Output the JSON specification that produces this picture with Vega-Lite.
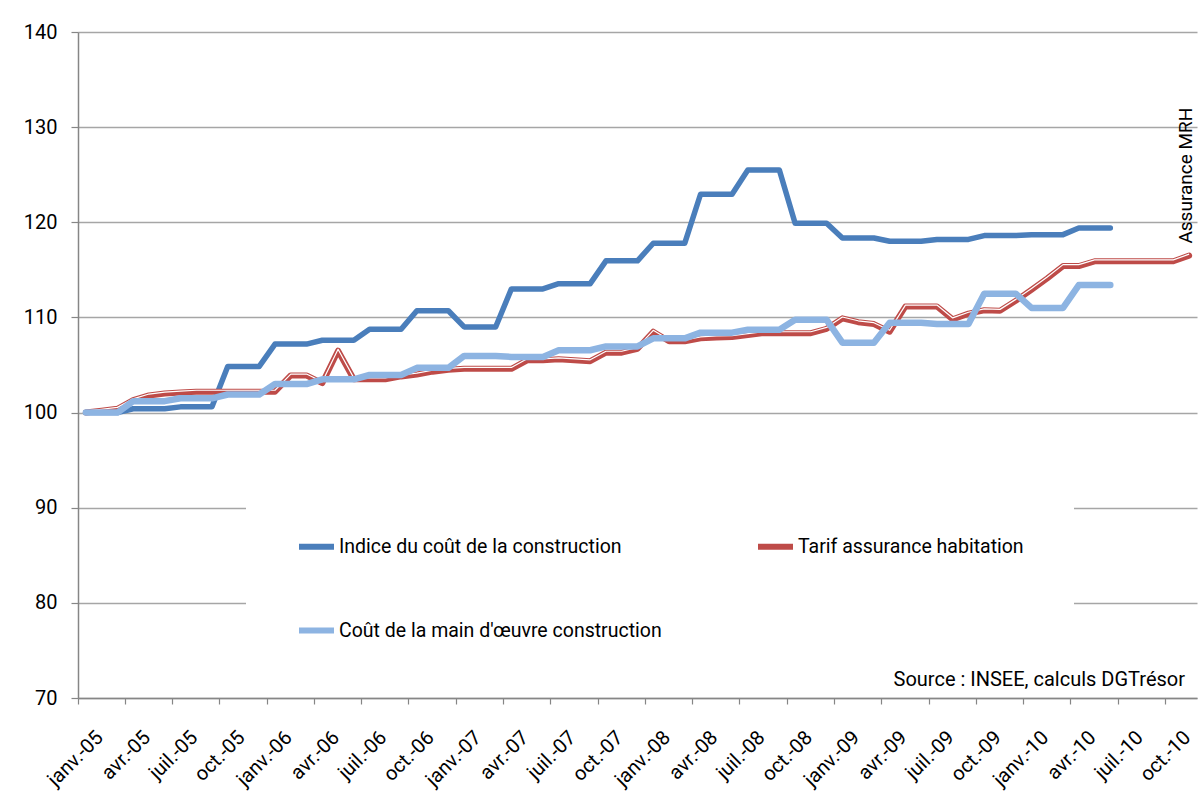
{
  "$schema": "https://vega.github.io/schema/vega-lite/v6.json",
  "width": 1119,
  "height": 666,
  "autosize": {"type": "none"},
  "padding": {"left": 78, "top": 32, "right": 6, "bottom": 94},
  "background": "white",
  "config": {"view": {"stroke": null}, "font": "Roboto"},
  "title": {
    "text": "Source : INSEE, calculs DGTrésor",
    "orient": "bottom", "anchor": "end", "frame": "group",
    "offset": -120, "dx": -12, "zindex": 1,
    "font": "Roboto", "fontSize": 20, "fontWeight": "normal", "color": "#000000"
  },
  "data": {"values": [
    {"mois": "janv.-05", "ICC": 100.0, "Tarif": 100.0, "MO": 100.0},
    {"mois": "févr.-05", "ICC": 100.0, "Tarif": 100.2, "MO": 100.0},
    {"mois": "mars-05", "ICC": 100.0, "Tarif": 100.4, "MO": 100.0},
    {"mois": "avr.-05", "ICC": 100.4, "Tarif": 101.3, "MO": 101.2},
    {"mois": "mai-05", "ICC": 100.4, "Tarif": 101.8, "MO": 101.2},
    {"mois": "juin-05", "ICC": 100.4, "Tarif": 102.0, "MO": 101.2},
    {"mois": "juil.-05", "ICC": 100.6, "Tarif": 102.1, "MO": 101.5},
    {"mois": "août-05", "ICC": 100.6, "Tarif": 102.2, "MO": 101.5},
    {"mois": "sept.-05", "ICC": 100.6, "Tarif": 102.2, "MO": 101.5},
    {"mois": "oct.-05", "ICC": 104.85, "Tarif": 102.2, "MO": 101.9},
    {"mois": "nov.-05", "ICC": 104.85, "Tarif": 102.2, "MO": 101.9},
    {"mois": "déc.-05", "ICC": 104.85, "Tarif": 102.2, "MO": 101.9},
    {"mois": "janv.-06", "ICC": 107.2, "Tarif": 102.2, "MO": 103.0},
    {"mois": "févr.-06", "ICC": 107.2, "Tarif": 103.9, "MO": 103.0},
    {"mois": "mars-06", "ICC": 107.2, "Tarif": 103.9, "MO": 103.0},
    {"mois": "avr.-06", "ICC": 107.6, "Tarif": 103.1, "MO": 103.5},
    {"mois": "mai-06", "ICC": 107.6, "Tarif": 106.5, "MO": 103.5},
    {"mois": "juin-06", "ICC": 107.6, "Tarif": 103.5, "MO": 103.5},
    {"mois": "juil.-06", "ICC": 108.75, "Tarif": 103.5, "MO": 103.95},
    {"mois": "août-06", "ICC": 108.75, "Tarif": 103.5, "MO": 103.95},
    {"mois": "sept.-06", "ICC": 108.75, "Tarif": 103.8, "MO": 103.95},
    {"mois": "oct.-06", "ICC": 110.7, "Tarif": 104.0, "MO": 104.7},
    {"mois": "nov.-06", "ICC": 110.7, "Tarif": 104.3, "MO": 104.7},
    {"mois": "déc.-06", "ICC": 110.7, "Tarif": 104.5, "MO": 104.7},
    {"mois": "janv.-07", "ICC": 109.0, "Tarif": 104.6, "MO": 105.95},
    {"mois": "févr.-07", "ICC": 109.0, "Tarif": 104.6, "MO": 105.95},
    {"mois": "mars-07", "ICC": 109.0, "Tarif": 104.6, "MO": 105.95},
    {"mois": "avr.-07", "ICC": 113.0, "Tarif": 104.6, "MO": 105.85},
    {"mois": "mai-07", "ICC": 113.0, "Tarif": 105.5, "MO": 105.85},
    {"mois": "juin-07", "ICC": 113.0, "Tarif": 105.5, "MO": 105.85},
    {"mois": "juil.-07", "ICC": 113.55, "Tarif": 105.6, "MO": 106.55},
    {"mois": "août-07", "ICC": 113.55, "Tarif": 105.5, "MO": 106.55},
    {"mois": "sept.-07", "ICC": 113.55, "Tarif": 105.4, "MO": 106.55},
    {"mois": "oct.-07", "ICC": 115.95, "Tarif": 106.3, "MO": 106.95},
    {"mois": "nov.-07", "ICC": 115.95, "Tarif": 106.3, "MO": 106.95},
    {"mois": "déc.-07", "ICC": 115.95, "Tarif": 106.7, "MO": 106.95},
    {"mois": "janv.-08", "ICC": 117.8, "Tarif": 108.5, "MO": 107.8},
    {"mois": "févr.-08", "ICC": 117.8, "Tarif": 107.5, "MO": 107.8},
    {"mois": "mars-08", "ICC": 117.8, "Tarif": 107.5, "MO": 107.8},
    {"mois": "avr.-08", "ICC": 122.95, "Tarif": 107.8, "MO": 108.4},
    {"mois": "mai-08", "ICC": 122.95, "Tarif": 107.9, "MO": 108.4},
    {"mois": "juin-08", "ICC": 122.95, "Tarif": 107.95, "MO": 108.4},
    {"mois": "juil.-08", "ICC": 125.5, "Tarif": 108.15, "MO": 108.7},
    {"mois": "août-08", "ICC": 125.5, "Tarif": 108.35, "MO": 108.7},
    {"mois": "sept.-08", "ICC": 125.5, "Tarif": 108.35, "MO": 108.7},
    {"mois": "oct.-08", "ICC": 119.9, "Tarif": 108.35, "MO": 109.75},
    {"mois": "nov.-08", "ICC": 119.9, "Tarif": 108.35, "MO": 109.75},
    {"mois": "déc.-08", "ICC": 119.9, "Tarif": 108.8, "MO": 109.75},
    {"mois": "janv.-09", "ICC": 118.35, "Tarif": 109.9, "MO": 107.35},
    {"mois": "févr.-09", "ICC": 118.35, "Tarif": 109.5, "MO": 107.35},
    {"mois": "mars-09", "ICC": 118.35, "Tarif": 109.3, "MO": 107.35},
    {"mois": "avr.-09", "ICC": 118.0, "Tarif": 108.5, "MO": 109.45},
    {"mois": "mai-09", "ICC": 118.0, "Tarif": 111.15, "MO": 109.45},
    {"mois": "juin-09", "ICC": 118.0, "Tarif": 111.15, "MO": 109.45},
    {"mois": "juil.-09", "ICC": 118.2, "Tarif": 111.15, "MO": 109.3},
    {"mois": "août-09", "ICC": 118.2, "Tarif": 109.8, "MO": 109.3},
    {"mois": "sept.-09", "ICC": 118.2, "Tarif": 110.4, "MO": 109.3},
    {"mois": "oct.-09", "ICC": 118.6, "Tarif": 110.75, "MO": 112.5},
    {"mois": "nov.-09", "ICC": 118.6, "Tarif": 110.7, "MO": 112.5},
    {"mois": "déc.-09", "ICC": 118.6, "Tarif": 111.75, "MO": 112.5},
    {"mois": "janv.-10", "ICC": 118.7, "Tarif": 112.9, "MO": 111.0},
    {"mois": "févr.-10", "ICC": 118.7, "Tarif": 114.1, "MO": 111.0},
    {"mois": "mars-10", "ICC": 118.7, "Tarif": 115.4, "MO": 111.0},
    {"mois": "avr.-10", "ICC": 119.4, "Tarif": 115.4, "MO": 113.4},
    {"mois": "mai-10", "ICC": 119.4, "Tarif": 115.9, "MO": 113.4},
    {"mois": "juin-10", "ICC": 119.4, "Tarif": 115.9, "MO": 113.4},
    {"mois": "juil.-10", "ICC": null, "Tarif": 115.9, "MO": null},
    {"mois": "août-10", "ICC": null, "Tarif": 115.9, "MO": null},
    {"mois": "sept.-10", "ICC": null, "Tarif": 115.9, "MO": null},
    {"mois": "oct.-10", "ICC": null, "Tarif": 115.9, "MO": null},
    {"mois": "nov.-10", "ICC": null, "Tarif": 116.5, "MO": null}
  ]},
  "transform": [
    {"fold": ["ICC", "Tarif", "MO"], "as": ["serie", "valeur"]},
    {"filter": "isValid(datum.valeur)"}
  ],
  "encoding": {
    "x": {
      "field": "mois", "type": "ordinal", "sort": null, "bandPosition": 0.5,
      "scale": {"type": "band", "paddingInner": 0, "paddingOuter": 0},
      "axis": {
        "title": null,
        "values": ["janv.-05","avr.-05","juil.-05","oct.-05","janv.-06","avr.-06","juil.-06","oct.-06","janv.-07","avr.-07","juil.-07","oct.-07","janv.-08","avr.-08","juil.-08","oct.-08","janv.-09","avr.-09","juil.-09","oct.-09","janv.-10","avr.-10","juil.-10","oct.-10"],
        "bandPosition": 0,
        "grid": false,
        "domainColor": "#868686", "domainWidth": 1.5,
        "tickColor": "#868686", "tickSize": 6, "tickWidth": 1.2,
        "labelAngle": -45, "labelAlign": "right", "labelBaseline": "middle",
        "labelOffset": 14, "labelPadding": 30,
        "labelFont": "Roboto", "labelFontSize": 20, "labelColor": "#000000",
        "labelOverlap": false, "labelBound": false
      }
    },
    "y": {
      "field": "valeur", "type": "quantitative",
      "scale": {"domain": [70, 140], "nice": false, "zero": false},
      "axis": {
        "title": null,
        "values": [70, 80, 90, 100, 110, 120, 130, 140],
        "grid": true, "gridColor": "#A6A6A6", "gridWidth": 1.3,
        "domainColor": "#868686", "domainWidth": 1.5,
        "tickColor": "#868686", "tickSize": 7, "tickWidth": 1.2,
        "labelFont": "Roboto", "labelFontSize": 20, "labelColor": "#000000",
        "labelPadding": 14
      }
    }
  },
  "layer": [
    {
      "transform": [{"filter": {"field": "serie", "equal": "ICC"}}],
      "mark": {"type": "line", "strokeWidth": 5.5, "strokeJoin": "round", "strokeCap": "round"},
      "encoding": {
        "color": {
          "field": "serie", "type": "nominal",
          "scale": {
            "domain": ["ICC", "Tarif", "MO"],
            "range": ["#4A7EBB", "#BE4B48", "#8DB4E2"]
          },
          "legend": {
            "title": null, "orient": "none", "legendX": 168, "legendY": 444,
            "direction": "horizontal", "columns": 2,
            "labelExpr": "datum.label == 'ICC' ? 'Indice du coût de la construction' : datum.label == 'Tarif' ? 'Tarif assurance habitation' : 'Coût de la main d\\'œuvre construction'",
            "symbolType": "stroke", "symbolSize": 1225, "symbolStrokeWidth": 6,
            "labelFont": "Roboto", "labelFontSize": 19.5, "labelColor": "#000000", "labelLimit": 500, "labelOffset": 2,
            "fillColor": "white", "padding": 50, "rowPadding": 51, "columnPadding": 84
          }
        }
      }
    },
    {
      "transform": [{"filter": {"field": "serie", "equal": "Tarif"}}],
      "mark": {"type": "line", "strokeWidth": 6, "strokeJoin": "round", "strokeCap": "round"},
      "encoding": {"color": {"field": "serie", "type": "nominal"}}
    },
    {
      "transform": [{"filter": {"field": "serie", "equal": "Tarif"}}],
      "mark": {"type": "line", "strokeWidth": 1.2, "color": "white", "yOffset": -1.4, "strokeJoin": "round"},
      "encoding": {}
    },
    {
      "transform": [{"filter": {"field": "serie", "equal": "MO"}}],
      "mark": {"type": "line", "strokeWidth": 6.5, "strokeJoin": "round", "strokeCap": "round"},
      "encoding": {"color": {"field": "serie", "type": "nominal"}}
    },
    {
      "transform": [
        {"filter": {"field": "serie", "equal": "Tarif"}},
        {"filter": {"field": "mois", "equal": "nov.-10"}}
      ],
      "mark": {"type": "text", "angle": 270, "align": "left", "baseline": "middle", "dx": 12, "dy": -3, "font": "Roboto", "fontSize": 19, "color": "#000000"},
      "encoding": {"text": {"value": "Assurance MRH"}}
    }
  ]
}
